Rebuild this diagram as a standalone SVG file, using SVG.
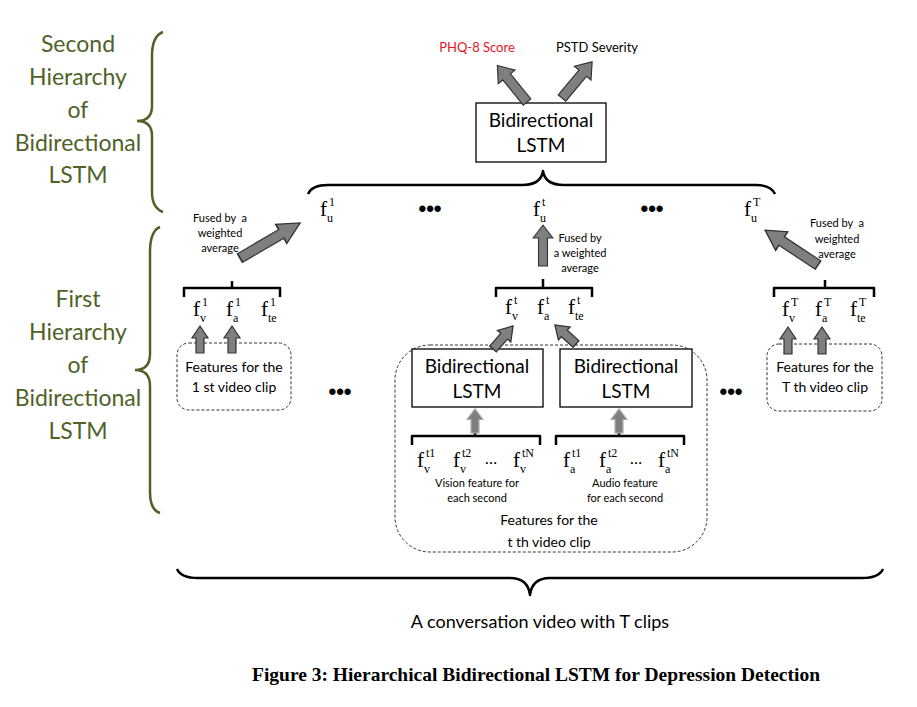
<svg xmlns="http://www.w3.org/2000/svg" width="917" height="707" viewBox="0 0 917 707">
<style>
.lbl{font-family:Lato,"Liberation Sans",sans-serif;fill:#000;text-anchor:middle}
.side{font-family:Lato,"Liberation Sans",sans-serif;fill:#4f6228;font-size:23px;text-anchor:middle}
.sm{font-size:11px}
.md{font-size:14px}
.lg{font-size:19px}
.f{font-family:"Liberation Serif",serif;font-size:21px;fill:#000}
.s{font-family:"Liberation Serif",serif;font-size:12px;fill:#000}
.box{fill:#fff;stroke:#000;stroke-width:1.3}
.dash{fill:none;stroke:#333;stroke-width:1;stroke-dasharray:3,2}
.br{fill:none;stroke:#000;stroke-width:2.5;stroke-linejoin:round}
.gbr{fill:none;stroke:#4f6228;stroke-width:2.5}
.arr{fill:#7f7f7f;stroke:#333;stroke-width:1.2;stroke-linejoin:miter}
.arrl{fill:#7f7f7f;stroke:#b0b0b0;stroke-width:1.2}
.dots{font-family:"Liberation Sans",sans-serif;font-size:22px;font-weight:bold;fill:#000;text-anchor:middle}
.cap{font-family:"Liberation Serif",serif;font-weight:bold;font-size:19px;text-anchor:middle;fill:#000}
</style>
<defs>
<path id="bigA" d="M0,-5 L33,-5 L33,-11 L48,0 L33,11 L33,5 L0,5 Z"/>
<path id="smA" d="M0,-4 L15,-4 L15,-8 L27,0 L15,8 L15,4 L0,4 Z"/>
</defs>

<g id="side-labels">
<text class="side" x="78" y="52">Second</text>
<text class="side" x="78" y="85">Hierarchy</text>
<text class="side" x="78" y="118">of</text>
<text class="side" x="78" y="151">Bidirectional</text>
<text class="side" x="78" y="183">LSTM</text>
<path class="gbr" d="M163,32 Q152,36 152,56 L152,106 Q152,121 137,121 Q152,121 152,136 L152,192 Q152,208 163,212"/>
<text class="side" x="78" y="307">First</text>
<text class="side" x="78" y="340">Hierarchy</text>
<text class="side" x="78" y="373">of</text>
<text class="side" x="78" y="406">Bidirectional</text>
<text class="side" x="78" y="439">LSTM</text>
<path class="gbr" d="M160,227 Q150,231 150,252 L150,354 Q150,370 135,370 Q150,370 150,386 L150,492 Q150,510 160,513"/>
</g>

<g id="outputs">
<text class="lbl md" x="477" y="52" style="fill:#e8141b;font-size:13px">PHQ-8 Score</text>
<text class="lbl md" x="597" y="52" style="font-size:13px">PSTD Severity</text>
</g>

<g id="top-lstm">
<rect class="box" x="476" y="103" width="130" height="59"/>
<text class="lbl lg" x="541" y="127">Bidirectional</text>
<text class="lbl lg" x="541" y="152">LSTM</text>
</g>

<g id="fu">
<text class="f" x="320" y="216">f</text><text class="s" x="329" y="206">1</text><text class="s" x="327" y="222">u</text>
<text class="dots" x="430" y="216">•••</text>
<text class="f" x="533" y="216">f</text><text class="s" x="542" y="206">t</text><text class="s" x="540" y="222">u</text>
<text class="dots" x="652" y="216">•••</text>
<text class="f" x="744" y="216">f</text><text class="s" x="753" y="206">T</text><text class="s" x="751" y="222">u</text>
</g>

<g id="fuse-labels">
<text class="lbl sm" x="220" y="222" style="white-space:pre">Fused by  a</text>
<text class="lbl sm" x="220" y="237">weighted</text>
<text class="lbl sm" x="220" y="252">average</text>
<text class="lbl sm" x="580" y="242">Fused by</text>
<text class="lbl sm" x="580" y="257">a weighted</text>
<text class="lbl sm" x="580" y="272">average</text>
<text class="lbl sm" x="837" y="227" style="white-space:pre">Fused by  a</text>
<text class="lbl sm" x="837" y="243">weighted</text>
<text class="lbl sm" x="837" y="258">average</text>
</g>

<g id="clip1">
<text class="f" x="193" y="316">f</text><text class="s" x="202" y="306">1</text><text class="s" x="200" y="322">v</text>
<text class="f" x="226" y="316">f</text><text class="s" x="235" y="306">1</text><text class="s" x="233" y="322">a</text>
<text class="f" x="261" y="316">f</text><text class="s" x="270" y="306">1</text><text class="s" x="268" y="322">te</text>
<rect class="dash" x="177" y="343" width="114" height="67" rx="12"/>
<text class="lbl md" x="234" y="372">Features for the</text>
<text class="lbl md" x="234" y="392">1 st video clip</text>
</g>

<text class="dots" x="340" y="399">•••</text>
<text class="dots" x="731" y="399">•••</text>

<g id="clipt">
<text class="f" x="505" y="314">f</text><text class="s" x="514" y="304">t</text><text class="s" x="512" y="320">v</text>
<text class="f" x="537" y="314">f</text><text class="s" x="546" y="304">t</text><text class="s" x="544" y="320">a</text>
<text class="f" x="568" y="314">f</text><text class="s" x="577" y="304">t</text><text class="s" x="575" y="320">te</text>
<rect class="dash" x="395" y="345" width="312" height="207" rx="35"/>
<text class="lbl md" x="549" y="525">Features for the</text>
<text class="lbl md" x="549" y="547">t th video clip</text>
</g>

<g id="lstm-v">
<rect class="box" x="412" y="349" width="131" height="58"/>
<text class="lbl lg" x="477" y="373">Bidirectional</text>
<text class="lbl lg" x="477" y="398">LSTM</text>
</g>
<g id="lstm-a">
<rect class="box" x="560" y="349" width="132" height="58"/>
<text class="lbl lg" x="626" y="373">Bidirectional</text>
<text class="lbl lg" x="626" y="398">LSTM</text>
</g>

<g id="vision">
<text class="f" x="417" y="467">f</text><text class="s" x="426" y="457">t1</text><text class="s" x="424" y="473">v</text>
<text class="f" x="453" y="467">f</text><text class="s" x="462" y="457">t2</text><text class="s" x="460" y="473">v</text>
<text class="lbl" x="491" y="464" style="font-size:16px">…</text>
<text class="f" x="513" y="467">f</text><text class="s" x="522" y="457">tN</text><text class="s" x="520" y="473">v</text>
<text class="lbl sm" x="477" y="487">Vision feature for</text>
<text class="lbl sm" x="477" y="502">each second</text>
</g>
<g id="audio">
<text class="f" x="563" y="467">f</text><text class="s" x="572" y="457">t1</text><text class="s" x="570" y="473">a</text>
<text class="f" x="599" y="467">f</text><text class="s" x="608" y="457">t2</text><text class="s" x="606" y="473">a</text>
<text class="lbl" x="636" y="464" style="font-size:16px">…</text>
<text class="f" x="658" y="467">f</text><text class="s" x="667" y="457">tN</text><text class="s" x="665" y="473">a</text>
<text class="lbl sm" x="625" y="487">Audio feature</text>
<text class="lbl sm" x="625" y="502">for each second</text>
</g>

<g id="clipT">
<text class="f" x="782" y="316">f</text><text class="s" x="791" y="306">T</text><text class="s" x="789" y="322">v</text>
<text class="f" x="815" y="316">f</text><text class="s" x="824" y="306">T</text><text class="s" x="822" y="322">a</text>
<text class="f" x="850" y="316">f</text><text class="s" x="859" y="306">T</text><text class="s" x="857" y="322">te</text>
<rect class="dash" x="767" y="344" width="115" height="67" rx="12"/>
<text class="lbl md" x="825" y="372">Features for the</text>
<text class="lbl md" x="825" y="392">T th video clip</text>
</g>

<g id="bottom">
<text class="lbl" x="540" y="628" style="font-size:18px">A conversation video with T clips</text>
<text class="cap" x="536" y="681" textLength="568" lengthAdjust="spacingAndGlyphs">Figure 3: Hierarchical Bidirectional LSTM for Depression Detection</text>
</g>

<g id="connectors">
<path class="br" d="M308,194 Q312,185 328,185 L522,185 Q541,185 543,171 Q545,185 564,185 L756,185 Q771,185 775,194"/>
<path class="br" d="M184,297 L184,288 L280,288 L280,297 M232,288 L232,281"/>
<path class="br" d="M496,297 L496,288 L592,288 L592,297 M543,288 L543,279"/>
<path class="br" d="M774,297 L774,288 L874,288 L874,297 M825,288 L825,280"/>
<path class="br" d="M412,445 L412,436 L540,436 L540,445 M475,436 L475,431"/>
<path class="br" d="M556,445 L556,436 L684,436 L684,445 M619,436 L619,431"/>
<path class="br" d="M177,569 Q181,578 198,578 L510,578 Q528,578 530,595 Q532,578 550,578 L862,578 Q879,578 883,569"/>
<use href="#bigA" class="arr" transform="translate(527,102) rotate(-129) scale(0.98)"/>
<use href="#bigA" class="arr" transform="translate(562,98) rotate(-50.2) scale(0.98)"/>
<use href="#bigA" class="arr" transform="translate(240,258) rotate(-30.3) scale(1.45,1)"/>
<use href="#bigA" class="arr" transform="translate(818,265) rotate(-146.6) scale(1.32,1)"/>
<use href="#bigA" class="arr" transform="translate(543,266) rotate(-90) scale(0.85,0.9)"/>
<use href="#smA" class="arr" transform="translate(200,353) rotate(-90)"/>
<use href="#smA" class="arr" transform="translate(232,353) rotate(-90)"/>
<use href="#smA" class="arr" transform="translate(788,354) rotate(-90)"/>
<use href="#smA" class="arr" transform="translate(822,354) rotate(-90)"/>
<use href="#smA" class="arr" transform="translate(493,349) rotate(-49) scale(1.13,1.1)"/>
<use href="#smA" class="arr" transform="translate(576,344) rotate(-138) scale(1.05,1.1)"/>
<use href="#smA" class="arrl" transform="translate(475,433) rotate(-90) scale(0.9,1)"/>
<use href="#smA" class="arrl" transform="translate(619,433) rotate(-90) scale(0.9,1)"/>
</g>
</svg>
